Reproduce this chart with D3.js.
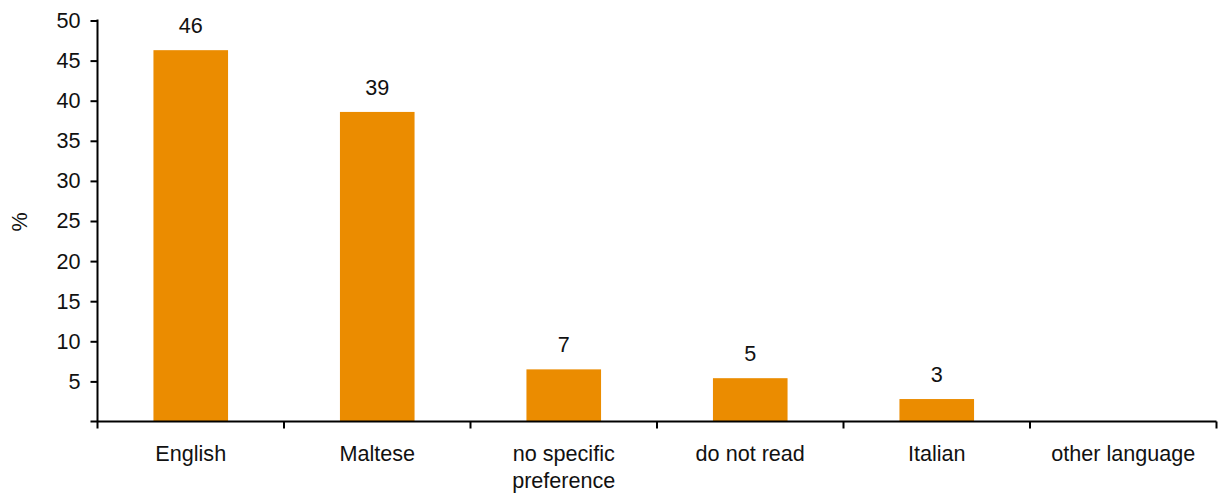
<!DOCTYPE html>
<html>
<head>
<meta charset="utf-8">
<script src="https://cdn.jsdelivr.net/npm/d3@7/dist/d3.min.js"></script>
<style>
  html, body { margin: 0; padding: 0; background: #fff; }
  svg { display: block; font-family: "Liberation Sans", Arial, sans-serif; }
</style>
</head>
<body>
<svg id="chart" width="1226" height="497"></svg>
<script>
// Preferred reading language (%)
const categories = ["English", "Maltese", "no specific preference", "do not read", "Italian", "other language"];
const categoryLines = [["English"], ["Maltese"], ["no specific", "preference"], ["do not read"], ["Italian"], ["other language"]];
const values = [46.3, 38.6, 6.5, 5.4, 2.8, 0];
const yTicks = [5, 10, 15, 20, 25, 30, 35, 40, 45, 50];
const yLabel = "%";

(function () {
  const svg = d3.select("#chart");
  const plotLeft = 97.5, plotRight = 1216.5, plotTop = 20.5, plotBottom = 421.5;
  const barColor = "#EB8C00";
  const fontSize = 21.6;

  const x = d3.scaleBand().domain(categories).range([plotLeft, plotRight]).padding(0);
  const y = d3.scaleLinear().domain([0, 50]).range([plotBottom, plotTop]);
  const barW = x.step() * 0.4;
  const rows = categories.map((c, i) => ({ c, v: values[i] })).filter(d => d.v > 0);

  // bars
  svg.append("g").selectAll("rect")
    .data(rows)
    .join("rect")
    .attr("x", d => x(d.c) + x.bandwidth() / 2 - barW / 2)
    .attr("width", barW)
    .attr("y", d => y(d.v))
    .attr("height", d => y(0) - y(d.v))
    .attr("fill", barColor);

  // value labels
  svg.append("g").selectAll("text")
    .data(rows)
    .join("text")
    .attr("x", d => x(d.c) + x.bandwidth() / 2)
    .attr("y", d => y(d.v) - 17)
    .attr("text-anchor", "middle")
    .attr("font-size", fontSize)
    .attr("fill", "#111")
    .text(d => d3.format(".0f")(d.v));

  // y axis
  const yAxis = svg.append("g")
    .attr("transform", `translate(${plotLeft},0)`)
    .call(d3.axisLeft(y).tickValues(yTicks).tickSize(7).tickPadding(10).tickSizeOuter(0));
  yAxis.select(".domain").attr("stroke", "#000").attr("stroke-width", 2)
    .attr("d", `M0,${plotTop - 1}V${plotBottom}`);
  yAxis.selectAll(".tick line").attr("stroke", "#000").attr("stroke-width", 2);
  yAxis.selectAll(".tick text").attr("font-size", fontSize).attr("fill", "#111")
    .attr("font-family", "Liberation Sans, Arial, sans-serif");

  // x axis
  const xAxis = svg.append("g")
    .attr("transform", `translate(0,${plotBottom})`)
    .call(d3.axisBottom(x).tickSize(0).tickFormat(""));
  xAxis.select(".domain").attr("stroke", "#000").attr("stroke-width", 2)
    .attr("d", `M${plotLeft - 7},0H${plotRight}`);
  xAxis.selectAll(".tick").remove();

  // category boundary ticks
  const bounds = categories.map(c => x(c)).concat([plotRight]);
  svg.append("g").selectAll("line")
    .data(bounds)
    .join("line")
    .attr("x1", d => d).attr("x2", d => d)
    .attr("y1", plotBottom).attr("y2", plotBottom + 7)
    .attr("stroke", "#000").attr("stroke-width", 2);

  // category labels
  const catG = svg.append("g");
  categories.forEach((c, i) => {
    const cx = x(c) + x.bandwidth() / 2;
    const t = catG.append("text")
      .attr("x", cx)
      .attr("y", 461)
      .attr("text-anchor", "middle")
      .attr("font-size", fontSize)
      .attr("fill", "#111");
    categoryLines[i].forEach((line, j) => {
      t.append("tspan")
        .attr("x", cx)
        .attr("dy", j === 0 ? 0 : 27)
        .text(line);
    });
  });

  // y axis title
  svg.append("text")
    .attr("transform", "translate(27,222) rotate(-90)")
    .attr("text-anchor", "middle")
    .attr("font-size", fontSize)
    .attr("fill", "#111")
    .text(yLabel);
})();
</script>
</body>
</html>
